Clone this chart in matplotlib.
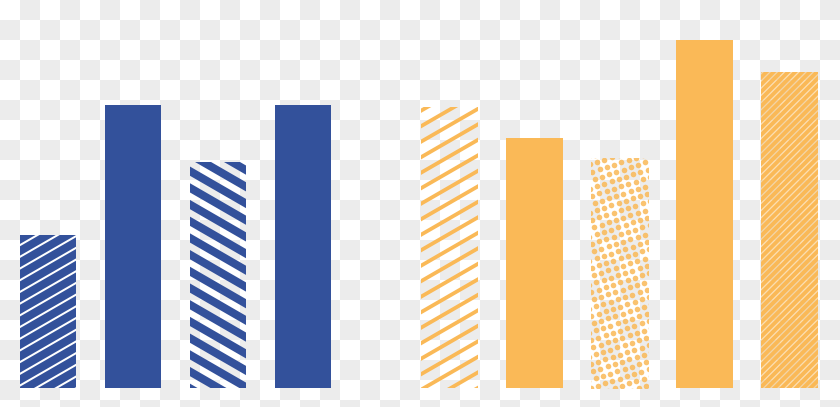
import numpy as np
import matplotlib
matplotlib.use('Agg')
import matplotlib.pyplot as plt
from matplotlib.colors import ListedColormap
from matplotlib.collections import LineCollection
from matplotlib.transforms import IdentityTransform

# data
blue_values = [153, 283, 226, 283]
orange_values = [281, 250, 230, 348, 316]
blue_patterns = ['fine', 'solid', 'wide', 'solid']
orange_patterns = ['open', 'solid', 'dots', 'solid', 'dense']
group_gap = 0.72

# style
blue = '#33519b'
orange = '#fab957'
dpi = 100


def stripes(ax, bar, angle, period, thick, color, alpha=1.0):
    # period is measured vertically, thick perpendicular to the stripe (pixels)
    bb = bar.get_window_extent()
    w = bb.x1 - bb.x0
    t = np.tan(np.radians(angle))
    lo = bb.y0 - max(0, t * w) - period
    hi = bb.y1 - min(0, t * w) + period
    segs = []
    for c in np.arange(lo, hi, period):
        segs.append([(bb.x0 - 5, c - 5 * t), (bb.x1 + 5, c + t * (w + 5))])
    lc = LineCollection(segs, colors=color, linewidths=thick * 72 / dpi,
                        alpha=alpha, transform=IdentityTransform())
    lc.set_capstyle('butt')
    ax.add_collection(lc, autolim=False)
    lc.set_clip_path(bar)


def dots(ax, bar, spacing, diam, angle, color, alpha=1.0):
    bb = bar.get_window_extent()
    phi = np.radians(angle)
    a = np.array([np.cos(phi), np.sin(phi)]) * spacing
    b = np.array([-np.sin(phi), np.cos(phi)]) * spacing
    n = int(max(bb.width, bb.height) / spacing) + 4
    pts = []
    for i in range(-n, n + 1):
        for j in range(-n, n + 1):
            p = np.array([bb.x0, bb.y0]) + i * a + j * b
            if bb.x0 - 5 < p[0] < bb.x1 + 5 and bb.y0 - 5 < p[1] < bb.y1 + 5:
                pts.append(p)
    pts = np.array(pts)
    sc = ax.scatter(pts[:, 0], pts[:, 1], s=(diam * 72 / dpi) ** 2, color=color,
                    alpha=alpha, linewidths=0, transform=IdentityTransform())
    sc.set_clip_path(bar)


fig = plt.figure(figsize=(8.4, 4.07), dpi=dpi)

# checkerboard background
bg = fig.add_axes([0, 0, 1, 1])
rows, cols = 21, 42
checker = (np.add.outer(np.arange(rows), np.arange(cols)) % 2)
bg.imshow(checker, cmap=ListedColormap(['white', '#ececec']), interpolation='nearest',
          extent=(0, cols * 20, rows * 20, 0), aspect='auto')
bg.set_xlim(0, 840)
bg.set_ylim(407, 0)
bg.axis('off')

ax = fig.add_axes([0, 19 / 407, 1, 388 / 407])
ax.patch.set_alpha(0)
ax.set_xlim(-48 / 85, (840 - 48) / 85)
ax.set_ylim(0, 388)
ax.axis('off')

width = 0.67
blue_x = np.arange(len(blue_values))
orange_x = np.arange(len(orange_values)) + len(blue_values) + group_gap

for x, v, pat in zip(blue_x, blue_values, blue_patterns):
    if pat == 'solid':
        ax.bar(x, v, width, color=blue)
    elif pat == 'fine':
        bar = ax.bar(x, v, width, color=blue)[0]
        stripes(ax, bar, 30, 11.7, 2.0, 'white')
    elif pat == 'wide':
        bar = ax.bar(x, v, width, color='none')[0]
        stripes(ax, bar, -30, 16.7, 8.0, blue)

for x, v, pat in zip(orange_x, orange_values, orange_patterns):
    if pat == 'solid':
        ax.bar(x, v, width, color=orange)
    elif pat == 'open':
        bar = ax.bar(x, v, width, color='none')[0]
        stripes(ax, bar, 30, 15.5, 3.8, orange)
    elif pat == 'dots':
        bar = ax.bar(x, v, width, color='none')[0]
        dots(ax, bar, 7.6, 5.6, 18, orange, 0.85)
    elif pat == 'dense':
        bar = ax.bar(x, v, width, color=orange, alpha=0.45)[0]
        stripes(ax, bar, 45, 7.2, 3.8, orange)

fig.savefig('out.png', dpi=dpi)
